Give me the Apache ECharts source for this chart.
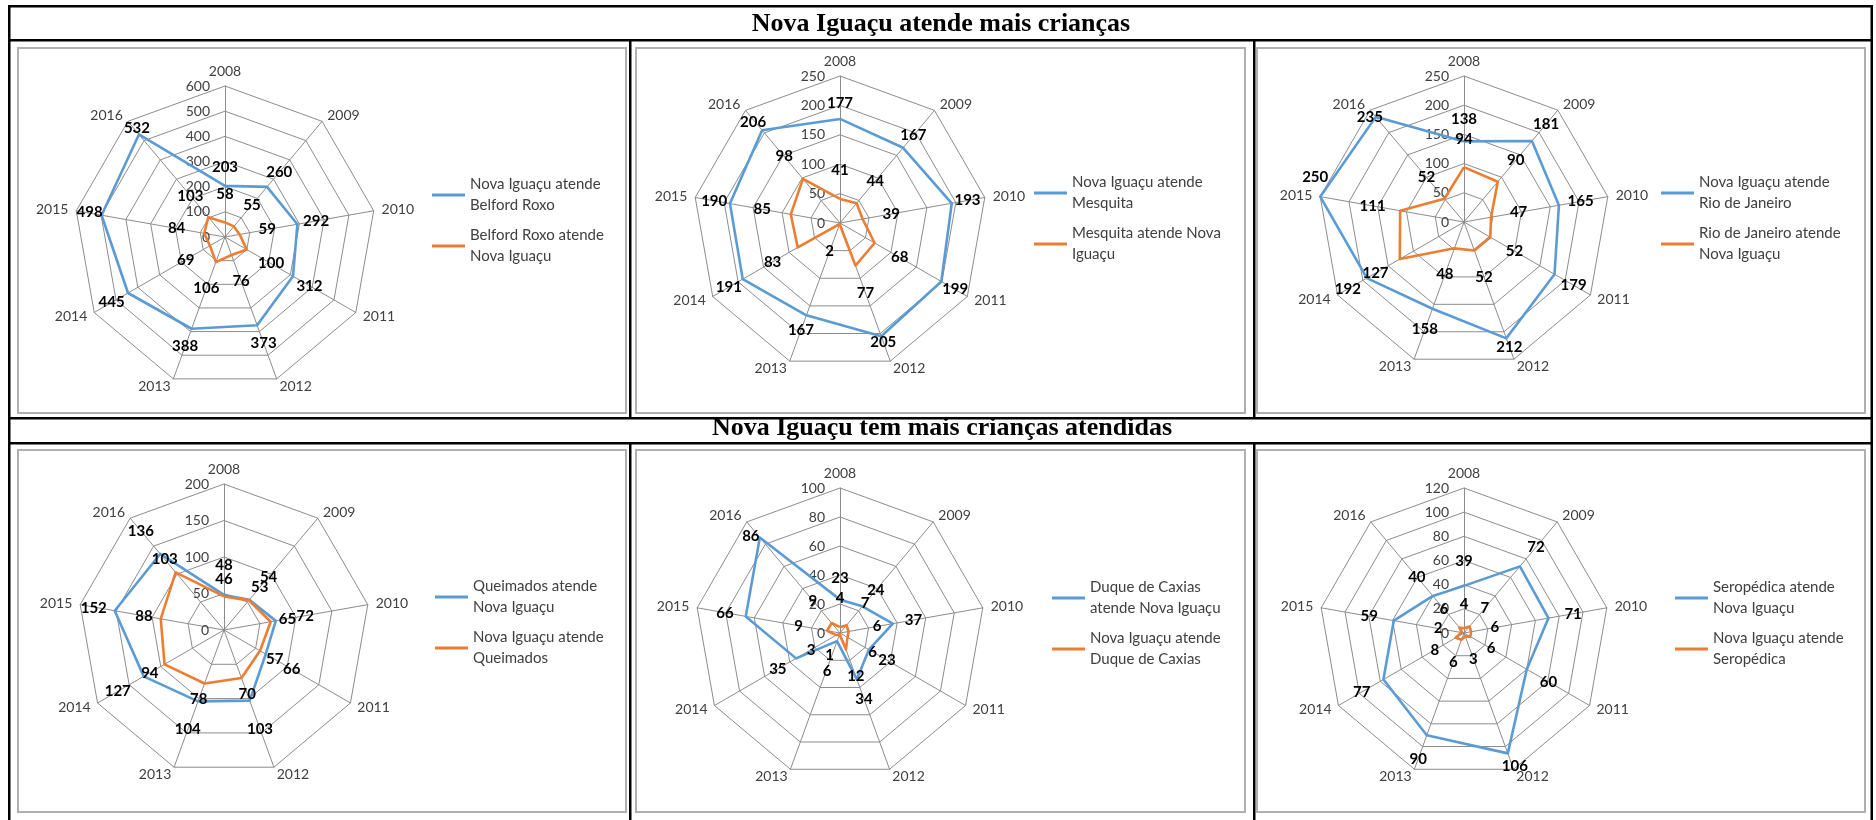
<!DOCTYPE html>
<html>
<head>
<meta charset="utf-8">
<script src="https://cdn.jsdelivr.net/npm/echarts@6/dist/echarts.min.js"></script>
<style>
  html, body { margin: 0; padding: 0; background: #ffffff; }
  #chart { width: 1876px; height: 820px; }
</style>
</head>
<body>
<div id="chart"></div>
<script>
// ---- data ----
const years = ['2008', '2009', '2010', '2011', '2012', '2013', '2014', '2015', '2016'];

const headings = ['Nova Iguaçu atende mais crianças', 'Nova Iguaçu tem mais crianças atendidas'];

// Nova Iguaçu x Belford Roxo
const belfordNames = ['Nova Iguaçu atende Belford Roxo', 'Belford Roxo atende Nova Iguaçu'];
const belfordLegend = [['Nova Iguaçu atende', 'Belford Roxo'], ['Belford Roxo atende', 'Nova Iguaçu']];
const belfordA = [203, 260, 292, 312, 373, 388, 445, 498, 532];
const belfordB = [58, 55, 59, 100, 76, 106, 69, 84, 103];
const belfordTicks = [0, 100, 200, 300, 400, 500, 600];

// Nova Iguaçu x Mesquita
const mesquitaNames = ['Nova Iguaçu atende Mesquita', 'Mesquita atende Nova Iguaçu'];
const mesquitaLegend = [['Nova Iguaçu atende', 'Mesquita'], ['Mesquita atende Nova', 'Iguaçu']];
const mesquitaA = [177, 167, 193, 199, 205, 167, 191, 190, 206];
const mesquitaB = [41, 44, 39, 68, 77, 2, 83, 85, 98];
const mesquitaTicks = [0, 50, 100, 150, 200, 250];

// Nova Iguaçu x Rio de Janeiro
const rioNames = ['Nova Iguaçu atende Rio de Janeiro', 'Rio de Janeiro atende Nova Iguaçu'];
const rioLegend = [['Nova Iguaçu atende', 'Rio de Janeiro'], ['Rio de Janeiro atende', 'Nova Iguaçu']];
const rioA = [138, 181, 165, 179, 212, 158, 192, 250, 235];
const rioB = [94, 90, 47, 52, 52, 48, 127, 111, 52];
const rioTicks = [0, 50, 100, 150, 200, 250];

// Nova Iguaçu x Queimados
const queimadosNames = ['Queimados atende Nova Iguaçu', 'Nova Iguaçu atende Queimados'];
const queimadosLegend = [['Queimados atende', 'Nova Iguaçu'], ['Nova Iguaçu atende', 'Queimados']];
const queimadosA = [48, 54, 72, 66, 103, 104, 127, 152, 136];
const queimadosB = [46, 53, 65, 57, 70, 78, 94, 88, 103];
const queimadosTicks = [0, 50, 100, 150, 200];

// Nova Iguaçu x Duque de Caxias
const caxiasNames = ['Duque de Caxias atende Nova Iguaçu', 'Nova Iguaçu atende Duque de Caxias'];
const caxiasLegend = [['Duque de Caxias', 'atende Nova Iguaçu'], ['Nova Iguaçu atende', 'Duque de Caxias']];
const caxiasA = [23, 24, 37, 23, 34, 6, 35, 66, 86];
const caxiasB = [4, 7, 6, 6, 12, 1, 3, 9, 9];
const caxiasTicks = [0, 20, 40, 60, 80, 100];

// Nova Iguaçu x Seropédica
const seropedicaNames = ['Seropédica atende Nova Iguaçu', 'Nova Iguaçu atende Seropédica'];
const seropedicaLegend = [['Seropédica atende', 'Nova Iguaçu'], ['Nova Iguaçu atende', 'Seropédica']];
const seropedicaA = [39, 72, 71, 60, 106, 90, 77, 59, 40];
const seropedicaB = [4, 7, 6, 6, 3, 6, 8, 2, 6];
const seropedicaTicks = [0, 20, 40, 60, 80, 100, 120];

const panels = [
  { names: belfordNames, legend: belfordLegend, a: belfordA, b: belfordB, ticks: belfordTicks },
  { names: mesquitaNames, legend: mesquitaLegend, a: mesquitaA, b: mesquitaB, ticks: mesquitaTicks },
  { names: rioNames, legend: rioLegend, a: rioA, b: rioB, ticks: rioTicks },
  { names: queimadosNames, legend: queimadosLegend, a: queimadosA, b: queimadosB, ticks: queimadosTicks },
  { names: caxiasNames, legend: caxiasLegend, a: caxiasA, b: caxiasB, ticks: caxiasTicks },
  { names: seropedicaNames, legend: seropedicaLegend, a: seropedicaA, b: seropedicaB, ticks: seropedicaTicks }
];

// ---- layout ----
const FONT = 'Lato, "Liberation Sans", sans-serif';
const COLORS = ['#5B9BD5', '#ED7D31'];
const GRID = '#8C8C8C';

// radar centre / radius, legend corner and how far value labels sit out along each spoke
const layout = [
  { center: [225, 237], radius: 151, legend: [432, 163.5], gaps: [19, 28] },
  { center: [840, 223], radius: 147, legend: [1034, 161.5], gaps: [16, 29] },
  { center: [1464, 222], radius: 146, legend: [1661, 161.5], gaps: [22, 28] },
  { center: [224, 630], radius: 146, legend: [435, 565.5], gaps: [30, 17] },
  { center: [840, 633], radius: 145, legend: [1052, 566.5], gaps: [21, 29] },
  { center: [1464, 633], radius: 145, legend: [1675, 566.5], gaps: [25, 24] }
];

// value labels placed by hand so they clear the year names or each other:
// [panel, series, year index, dx, dy]
const labelNudges = [
  [0, 0, 8, -2, -6], [0, 0, 7, -12, -3],
  [1, 0, 4, 2, 6], [1, 0, 8, -9, -8],
  [2, 0, 7, -5, -19], [2, 0, 8, -6, 0], [2, 0, 4, 3, 9],
  [3, 0, 7, -21, -3],
  [4, 0, 8, -9, -1], [4, 0, 5, -10, 30], [4, 1, 5, -10, 21],
  [5, 0, 4, 7, 13]
];

// chart-area frames (gray)
const frameX = [[18, 626], [636, 1245], [1257, 1865]];
const frameY = [[48, 413], [450, 812]];

// ECharts lays radar indicators out counter-clockwise; this order puts
// the years clockwise starting from 2008 at the top.
const order = [0, 8, 7, 6, 5, 4, 3, 2, 1];

function labelOffset(k, s, yi, d) {
  for (let n = 0; n < labelNudges.length; n++) {
    const t = labelNudges[n];
    if (t[0] === k && t[1] === s && t[2] === yi) return [t[3], t[4]];
  }
  const th = yi * 2 * Math.PI / years.length;
  return [d * Math.sin(th), -d * Math.cos(th)];
}

const option = {
  animation: false,
  backgroundColor: '#ffffff',
  radar: [],
  legend: [],
  series: [],
  graphic: []
};

panels.forEach(function (p, k) {
  const L = layout[k];
  const maxV = p.ticks[p.ticks.length - 1];

  option.radar.push({
    center: L.center,
    radius: L.radius,
    startAngle: 90,
    shape: 'polygon',
    splitNumber: p.ticks.length - 1,
    nameGap: 8,
    indicator: order.map(function (yi, j) {
      return { name: years[yi], min: 0, max: maxV, axisLabel: { show: j === 0 } };
    }),
    axisName: { color: '#404040', fontSize: 14, fontFamily: FONT },
    splitLine: { lineStyle: { color: GRID, width: 1 } },
    splitArea: { show: false },
    axisLine: { lineStyle: { color: GRID, width: 1 } },
    axisTick: { show: false },
    axisLabel: { show: false, color: '#404040', fontSize: 14, fontFamily: FONT, margin: 15 }
  });

  [p.a, p.b].forEach(function (vals, s) {
    // visible polygon
    option.series.push({
      type: 'radar',
      radarIndex: k,
      name: p.names[s],
      symbol: 'none',
      z: 3 + s,
      lineStyle: { color: COLORS[s], width: 2.6 },
      itemStyle: { color: COLORS[s] },
      data: [{ name: p.names[s], value: order.map(function (i) { return vals[i]; }) }]
    });

    // value labels: one item per vertex so each label can sit on its own spoke
    const d = L.gaps[s];
    option.series.push({
      type: 'radar',
      radarIndex: k,
      name: p.names[s] + ' (valores)',
      symbol: 'circle',
      symbolSize: 1,
      silent: true,
      z: 6,
      itemStyle: { color: 'rgba(0,0,0,0)' },
      lineStyle: { width: 0, opacity: 0 },
      label: {
        show: true,
        position: 'inside',
        color: '#000000',
        fontFamily: FONT,
        fontWeight: 'bold',
        fontSize: 15,
        formatter: function (q) { return typeof q.value === 'number' ? String(q.value) : ''; }
      },
      data: order.map(function (yi, j) {
        const v = order.map(function () { return '-'; });
        v[j] = vals[yi];
        return {
          name: years[yi],
          value: v,
          label: { offset: labelOffset(k, s, yi, d) }
        };
      })
    });
  });

  option.legend.push({
    orient: 'vertical',
    left: L.legend[0],
    top: L.legend[1],
    padding: 0,
    itemGap: -12,
    icon: 'rect',
    itemWidth: 33,
    itemHeight: 3,
    selectedMode: false,
    itemStyle: { borderWidth: 0 },
    data: p.names,
    textStyle: { fontFamily: FONT, fontSize: 15, color: '#404040', lineHeight: 21, padding: [21, 0, 0, 0] },
    formatter: function (name) { return p.legend[p.names.indexOf(name)].join('\n'); }
  });
});

// gray chart-area frames
frameY.forEach(function (fy) {
  frameX.forEach(function (fx) {
    option.graphic.push({
      type: 'rect', silent: true, z: -5,
      shape: { x: fx[0], y: fy[0], width: fx[1] - fx[0], height: fy[1] - fy[0] },
      style: { fill: 'none', stroke: '#B0B0B0', lineWidth: 2 }
    });
  });
});

// black table rules
function bar(x, y, w, h) {
  option.graphic.push({ type: 'rect', silent: true, z: 10, shape: { x: x, y: y, width: w, height: h }, style: { fill: '#000000' } });
}
[5, 39, 417, 442].forEach(function (y) { bar(8, y, 1865, 2.5); });
bar(8, 5, 2.5, 815);
bar(1870.5, 5, 2.5, 815);
[629, 1253].forEach(function (x) { bar(x, 39, 2.5, 380); bar(x, 442, 2.5, 378); });

// row headings
option.graphic.push({
  type: 'text', silent: true, z: 10, x: 941, y: 24.5,
  style: { text: headings[0], font: 'bold 26px "Liberation Serif", "Times New Roman", serif', fill: '#000000', align: 'center', verticalAlign: 'middle' }
});
option.graphic.push({
  type: 'text', silent: true, z: 10, x: 942, y: 428.5,
  style: { text: headings[1], font: 'bold 26px "Liberation Serif", "Times New Roman", serif', fill: '#000000', align: 'center', verticalAlign: 'middle' }
});

const chart = echarts.init(document.getElementById('chart'), null, { renderer: 'canvas' });
chart.setOption(option);
</script>
</body>
</html>
